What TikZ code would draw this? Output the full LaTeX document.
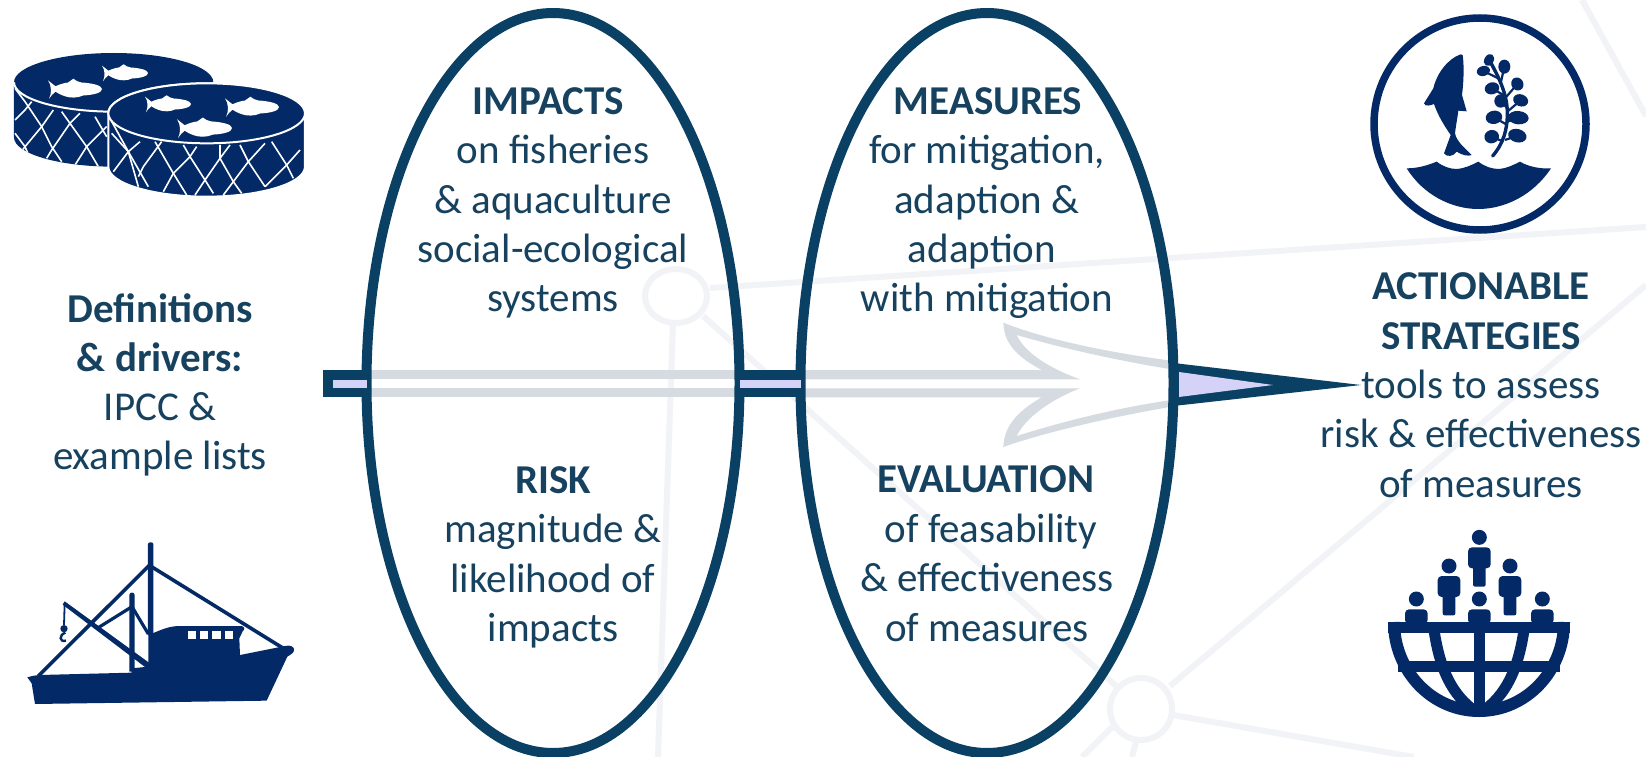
\documentclass[tikz,border=0pt]{standalone}
\usepackage{fontspec}
\setmainfont{Carlito}
\definecolor{navy}{HTML}{0B4065}
\definecolor{txt}{HTML}{17425F}
\definecolor{icon}{HTML}{032A66}
\definecolor{lilac}{HTML}{D5D2F7}
\definecolor{greyarrow}{HTML}{D5DBE0}
\definecolor{web}{HTML}{F1F3F6}
\tikzset{
  ell/.style={draw=navy,line width=10pt,ellipse,minimum width=373pt,minimum height=740pt,inner sep=0pt,outer sep=0pt},
  lbl/.style={anchor=base,text=txt,inner sep=0pt,yshift=-1.5pt,font=\fontsize{41}{41}\selectfont},
  hd/.style={lbl,font=\fontsize{41}{41}\selectfont\bfseries},
  webline/.style={draw=web,line width=6pt},
  net/.style={draw=white,line width=1.6pt,line join=round},
  shaft/.style={draw=navy,line width=9.5pt,line join=miter},
  pics/whitefish/.style={code={
    \fill[white] (0,-.16) .. controls (.05,-.12) and (.1,-.08) .. (.14,-.05)
      .. controls (.22,-.09) and (.3,-.11) .. (.37,-.12) -- (.47,-.19)
      .. controls (.52,-.15) and (.56,-.13) .. (.62,-.12)
      .. controls (.8,-.11) and (1,-.07) .. (1,0)
      .. controls (1,.07) and (.85,.11) .. (.65,.12)
      .. controls (.55,.17) and (.4,.17) .. (.3,.13)
      .. controls (.24,.11) and (.18,.08) .. (.14,.05)
      .. controls (.09,.09) and (.05,.13) .. (.02,.18)
      .. controls (.07,.08) and (.07,-.06) .. (0,-.16) -- cycle;
  }},
}
\usetikzlibrary{shapes.geometric}
\begin{document}
\begin{tikzpicture}[x=1pt,y=-1pt]
\useasboundingbox (0,0) rectangle (1646,757);
\fill[white] (0,0) rectangle (1646,757);

% background web
\coordinate (wa) at (676,296);
\coordinate (wb) at (1141,709);
\draw[webline] (710,288) -- (1646,227);
\draw[webline] (673,322) -- (658,757);
\draw[webline] (703,316) -- (1116,686);
\draw[webline] (1170,686) -- (1646,285);
\draw[webline] (1173,715) -- (1414,757);
\draw[webline] (1112,727) -- (1082,757);
\draw[webline] (1136,742) -- (1132,757);
\draw[webline] (1582,0) -- (1646,116);
\draw[webline] (wa) ellipse[x radius=31,y radius=27];
\draw[webline] (wb) circle[radius=31];

% grey arrow inside the ovals
\fill[greyarrow] (367,370) rectangle (740,379);
\fill[greyarrow] (367,388) rectangle (740,397);
\begin{scope}[shift={(930,290)},scale=1/3]
\fill[greyarrow] (-393,240) -- (335,240) .. controls (260,200) and (222,160) .. (220,98)
  .. controls (350,150) and (550,190) .. (725,212) -- (725,238)
  .. controls (550,210) and (380,170) .. (260,135)
  .. controls (285,190) and (360,235) .. (450,268) -- (-393,268) -- cycle;
\fill[greyarrow] (-393,322) -- (335,322) .. controls (260,365) and (222,410) .. (220,471)
  .. controls (350,425) and (550,380) .. (725,350) -- (725,330)
  .. controls (550,355) and (380,400) .. (260,438)
  .. controls (285,385) and (360,330) .. (450,295) -- (-393,295) -- cycle;
\end{scope}

% ovals
\node[ell] (e1) at (553,383) {};
\node[ell] (e2) at (987,383) {};

% arrow shaft pieces
\coordinate (tailtop) at (327.75,374.75);
\coordinate (tailbot) at (327.75,392.25);
\fill[lilac] (tailtop) rectangle (e1.west |- tailbot);
\draw[shaft] (e1.west |- tailtop) -- (tailtop) -- (tailbot) -- (e1.west |- tailbot);
\fill[lilac] (e1.east |- tailtop) rectangle (e2.west |- tailbot);
\draw[shaft] (e1.east |- tailtop) -- (e2.west |- tailtop);
\draw[shaft] (e1.east |- tailbot) -- (e2.west |- tailbot);

% arrow head
\coordinate (tip) at (1361,385);
\fill[navy] (e2.east |- 0,363) -- (tip) -- (e2.east |- 0,406) -- cycle;
\fill[lilac] (1179,372) -- (1273,385) -- (1179,397) -- cycle;

% middle texts
\node[hd]  (t1)  at (548,113) {IMPACTS};
\node[lbl] (t2)  at (553,162) {on fisheries};
\node[lbl] (t3)  at (553,212) {\& aquaculture};
\node[lbl] (t4)  at (553,261) {social-ecological};
\node[lbl] (t5)  at (553,310) {systems};
\node[hd]  (t6)  at (553,492) {RISK};
\node[lbl] (t7)  at (553,541) {magnitude \&};
\node[lbl] (t8)  at (553,591) {likelihood of};
\node[lbl] (t9)  at (553,640) {impacts};
\node[hd]  (m1)  at (988,113) {MEASURES};
\node[lbl] (m2)  at (987,162) {for mitigation,};
\node[lbl] (m3)  at (987,212) {adaption \&};
\node[lbl] (m4)  at (982,261) {adaption};
\node[lbl] (m5)  at (987,310) {with mitigation};
\node[hd]  (m6)  at (986,491) {EVALUATION};
\node[lbl] (m7)  at (991,541) {of feasability};
\node[lbl] (m8)  at (987,590) {\& effectiveness};
\node[lbl] (m9)  at (987,640) {of measures};
% left
\node[hd]  (l1)  at (160,321) {Definitions};
\node[hd]  (l2)  at (160,370) {\& drivers:};
\node[lbl] (l3)  at (160,419) {IPCC \&};
\node[lbl] (l4)  at (160,468) {example lists};
% right
\node[hd]  (r1)  at (1481,298) {ACTIONABLE};
\node[hd]  (r2)  at (1481,348) {STRATEGIES};
\node[lbl] (r3)  at (1481,397) {tools to assess};
\node[lbl] (r4)  at (1481,446) {risk \& effectiveness};
\node[lbl] (r5)  at (1481,496) {of measures};

% tanks
\begin{scope}[shift={(0,30)},scale=1/3]
  \fill[icon] (42,157) -- (42,322) arc[start angle=180,end angle=0,x radius=299,y radius=88] -- (640,157) arc[start angle=0,end angle=-180,x radius=299,y radius=88] -- cycle;
  \begin{scope}
    \clip (42,157) -- (42,322) arc[start angle=180,end angle=0,x radius=299,y radius=88] -- (640,157) arc[start angle=0,end angle=180,x radius=299,y radius=88] -- cycle;
    \draw[net] (45,175) -- (75,215) -- (125,290) -- (155,350) -- (185,395);
    \draw[net] (95,215) -- (75,240) -- (45,270);
    \draw[net] (160,240) -- (125,290) -- (75,350) -- (60,370);
    \draw[net] (185,245) -- (210,280) -- (260,350) -- (295,410);
    \draw[net] (240,250) -- (210,280) -- (155,360) -- (140,385);
    \draw[net] (285,260) -- (320,320);
    \draw[net] (320,290) -- (260,350) -- (225,405);
    \draw[net] (45,310) -- (75,350) -- (90,385);
  \end{scope}
  \draw[white,line width=2pt] (42,157) arc[start angle=180,end angle=0,x radius=299,y radius=88];
\end{scope}
\begin{scope}[shift={(0,30)},scale=1/3]
  \filldraw[fill=icon,draw=white,line width=2pt] (325,250) -- (325,410) arc[start angle=180,end angle=0,x radius=295,y radius=90] -- (915,250) arc[start angle=0,end angle=-180,x radius=295,y radius=90] -- cycle;
  \begin{scope}
    \clip (325,250) -- (325,410) arc[start angle=180,end angle=0,x radius=295,y radius=90] -- (915,250) arc[start angle=0,end angle=180,x radius=295,y radius=90] -- cycle;
    \draw[net] (330,265) -- (385,365) -- (445,470);
    \draw[net] (420,335) -- (385,365) -- (340,425);
    \draw[net] (335,310) -- (385,365) -- (415,470);
    \draw[net] (465,335) -- (520,430) -- (560,495);
    \draw[net] (485,335) -- (430,410) -- (415,440);
    \draw[net] (550,345) -- (570,380) -- (615,450) -- (640,490);
    \draw[net] (590,350) -- (570,380) -- (520,430) -- (490,485);
    \draw[net] (660,345) -- (660,385) -- (700,455) -- (725,490);
    \draw[net] (690,345) -- (660,385) -- (615,450) -- (585,495);
    \draw[net] (720,345) -- (745,395) -- (795,470);
    \draw[net] (795,340) -- (745,395) -- (700,455) -- (670,495);
    \draw[net] (815,335) -- (860,405) -- (880,445);
    \draw[net] (900,360) -- (860,405) -- (795,470);
  \end{scope}
  \fill[icon,draw=white,line width=2pt] (620,250) ellipse[x radius=295,y radius=90];
\end{scope}
\foreach \fx/\fy/\fw in {48/89/54,102/73/46,145/104/46,225/107/54,177/128/55}{
  \begin{scope}[shift={(\fx,\fy)},x=\fw pt,y=-\fw pt]
    \pic {whitefish};
  \end{scope}
}

% boat
\begin{scope}[shift={(0,270)},scale=1/3]
  \fill[icon] (82,1222) .. controls (95,1218) and (105,1216) .. (120,1215) -- (395,1208) -- (395,1195) -- (445,1190) -- (445,1095)
    -- (470,1085) .. controls (500,1072) and (520,1068) .. (540,1068) -- (725,1068) .. controls (735,1072) and (735,1078) .. (728,1084)
    -- (718,1105) -- (720,1155) -- (855,1128) .. controls (870,1124) and (885,1130) .. (882,1142)
    .. controls (880,1150) and (870,1155) .. (862,1160) -- (800,1292) -- (105,1302) -- (95,1240) -- cycle;
  \foreach \wx in {563,600,637,675}{\fill[white] (\wx,1082) rectangle ++(25,26);}
  \fill[icon] (444,822) .. controls (444,815) and (460,815) .. (460,822) -- (460,1095) -- (444,1095) -- cycle;
  \fill[icon] (388,975) .. controls (388,965) and (404,965) .. (404,975) -- (404,1205) -- (388,1205) -- cycle;
  \draw[icon,line width=3.6pt] (115,1218) -- (448,886) -- (850,1135);
  \draw[icon,line width=3.2pt] (290,1076) -- (396,1010) -- (445,1092);
  \fill[icon] (188,1004) -- (194,994) -- (447,1178) -- (447,1200) -- cycle;
  \draw[icon,line width=1.8pt] (194,1000) -- (192,1065);
  \fill[icon] (192,1076) circle[radius=11];
  \draw[icon,line width=2.4pt] (196,1088) .. controls (176,1095) and (178,1118) .. (198,1112);
\end{scope}

% fish-and-seaweed emblem
\node[draw=icon,line width=7.5pt,circle,minimum size=212pt,inner sep=0pt,outer sep=0pt] (emblem) at (1480,124) {};
\begin{scope}[shift={(1290,20)},scale=1/3]
  \fill[icon] (512,103) .. controls (475,115) and (440,160) .. (430,205) -- (402,250) .. controls (405,262) and (425,255) .. (432,252)
    .. controls (445,290) and (465,320) .. (482,345) -- (462,400) .. controls (470,412) and (490,410) .. (500,395)
    .. controls (515,405) and (535,410) .. (545,405) .. controls (525,385) and (500,365) .. (495,340)
    .. controls (498,315) and (502,295) .. (505,272) -- (530,274) -- (516,225) .. controls (522,180) and (522,130) .. (518,105) -- cycle;
  \draw[icon,line width=3.4pt,line cap=round] (608,408) .. controls (640,370) and (652,330) .. (652,280) .. controls (652,220) and (625,170) .. (597,118);
  \foreach \sx/\sy/\srx/\sry/\sa/\ex/\ey in {
    597/120/14/19/-30/615/155,
    580/153/20/15/15/625/175,
    643/140/18/21/0/632/190,
    606/205/22/18/15/640/225,
    682/192/18/20/30/645/235,
    632/243/19/20/0/652/265,
    692/241/23/18/-20/652/275,
    612/292/25/20/10/652/315,
    685/293/31/20/-5/652/305,
    605/350/22/20/15/640/365,
    682/347/28/20/-15/645/360}{
    \fill[icon,rotate around={\sa:(\sx,\sy)}] (\sx,\sy) ellipse[x radius=\srx,y radius=\sry];
    \draw[icon,line width=2.2pt] (\sx,\sy) -- (\ex,\ey);
  }
  \fill[icon] (350,445) .. controls (385,445) and (415,435) .. (440,425) .. controls (460,440) and (480,447) .. (500,447)
    .. controls (525,445) and (545,435) .. (565,425) .. controls (585,440) and (605,447) .. (628,447)
    .. controls (650,445) and (670,435) .. (690,425) .. controls (715,440) and (750,447) .. (783,445)
    .. controls (730,525) and (645,567) .. (565,567) .. controls (485,567) and (400,525) .. (350,445) -- cycle;
\end{scope}

% globe with people
\begin{scope}
  \draw[icon,line width=12pt] (1394,622) arc[start angle=180,end angle=0,x radius=85,y radius=89];
  \fill[icon] (1388,622) rectangle (1570,633);
  \fill[icon] (1474,622) rectangle (1485,712);
  \draw[icon,line width=10.5pt] (1398,666.5) -- (1560,666.5);
  \draw[icon,line width=11pt] (1434,630) .. controls (1440,670) and (1452,695) .. (1476,712);
  \draw[icon,line width=11pt] (1524,630) .. controls (1518,670) and (1506,695) .. (1482,712);
\end{scope}
\begin{scope}[shift={(1300,490)},scale=1/3]
  \foreach \px/\py in {538/142,447/228,630/228}{
    \fill[icon] (\px,\py) circle[radius=22.5];
    \fill[icon,rounded corners=4pt] (\px-34,\py+30) rectangle (\px+34,\py+93);
    \fill[icon,rounded corners=2pt] (\px-19,\py+80) rectangle (\px+19,\py+148);
  }
  \foreach \px/\py in {349/327,538/327,727/327}{
    \fill[icon] (\px,\py) circle[radius=22.5];
    \fill[icon,rounded corners=4pt] (\px-34,\py+31) rectangle (\px+34,\py+75);
  }
\end{scope}
\end{tikzpicture}
\end{document}
